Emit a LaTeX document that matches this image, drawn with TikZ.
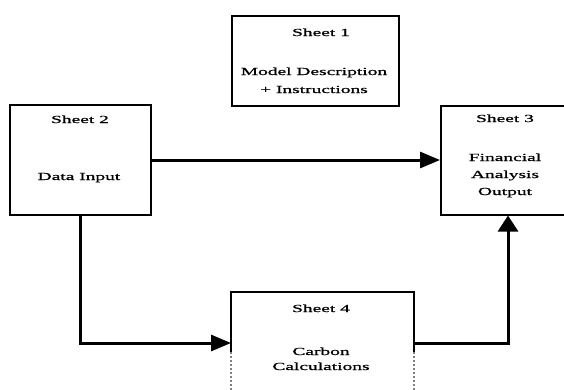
\documentclass[tikz,border=0pt]{standalone}
\usepackage{fontspec}
\newfontfamily\sheetfont[FakeStretch=1.8,FakeBold=0.8]{Liberation Serif}
\usetikzlibrary{arrows.meta}
\begin{document}
\begin{tikzpicture}[x=1pt,y=-1pt,
  sheetbox/.style={draw=black, line width=2pt, rectangle, inner sep=0pt},
  sheettext/.style={font=\sheetfont\fontsize{10.8}{18}\selectfont, align=center, anchor=base, inner sep=0pt},
  flow/.style={line width=3pt},
  harrow/.style={-{Triangle[length=20pt,width=16pt]}},
  varrow/.style={-{Triangle[length=16pt,width=20pt]}},
  fadeside/.style={draw=gray, line width=1.5pt, dash pattern=on 2pt off 2pt},
]
\useasboundingbox (0,0) rectangle (564,389);
\clip (0,0) rectangle (564,389);

% worksheets
\node[sheetbox, minimum width=167pt, minimum height=90pt]  (box1) at (315.5,61) {};
\node[sheetbox, minimum width=141pt, minimum height=110pt] (box2) at (80.5,160) {};
\node[sheetbox, minimum width=134pt, minimum height=109pt] (box3) at (508,160) {};
\node[sheetbox, draw=none, minimum width=181pt, minimum height=100pt] (box4) at (322.5,343) {};
\draw[line width=2pt] (box4.west |- 0,352) -- (box4.north west) -- (box4.north east) -- (box4.east |- 0,352);
\draw[fadeside] (box4.west |- 0,352) -- (box4.south west);
\draw[fadeside] (box4.east |- 0,352) -- (box4.south east);

% titles and contents (a multi-line node sits on its last baseline)
\node[sheettext] (t1) at (321,36) {Sheet 1};
\node[sheettext] (b1) at (314,93) {Model Description\\+ Instructions};
\node[sheettext] (t2) at (80,123) {Sheet 2};
\node[sheettext] (b2) at (79,180) {Data Input};
\node[sheettext] (t3) at (505,122) {Sheet 3};
\node[sheettext, font=\sheetfont\fontsize{10.8}{17}\selectfont] (b3) at (505,195) {Financial\\Analysis\\Output};
\node[sheettext] (t4) at (321,312) {Sheet 4};
\node[sheettext, font=\sheetfont\fontsize{10.8}{15}\selectfont] (b4) at (321,370) {Carbon\\Calculations};

% data flow
\draw[flow, harrow] (box2.east) -- (box2.east -| box3.west);
\draw[flow, harrow] (box2.south) |- (box4.west);
\draw[flow, varrow] (box4.east) -| (box3.south);
\end{tikzpicture}
\end{document}
